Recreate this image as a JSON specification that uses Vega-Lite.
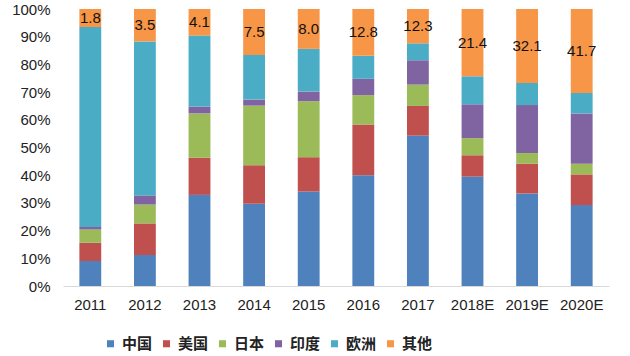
{
  "$schema": "https://vega.github.io/schema/vega-lite/v6.json",
  "width": 546,
  "height": 277,
  "autosize": {"type": "none"},
  "padding": {"left": 63, "top": 9, "right": 21, "bottom": 70},
  "background": "white",
  "config": {"view": {"stroke": null}, "font": "Liberation Sans"},
  "data": {
    "values": [
      {"year": "2011", "region": "中国", "value": 9.0},
      {"year": "2011", "region": "美国", "value": 6.6},
      {"year": "2011", "region": "日本", "value": 4.8},
      {"year": "2011", "region": "印度", "value": 0.9},
      {"year": "2011", "region": "欧洲", "value": 72.2},
      {"year": "2011", "region": "其他", "value": 6.5, "label": "1.8"},
      {"year": "2012", "region": "中国", "value": 11.2},
      {"year": "2012", "region": "美国", "value": 11.4},
      {"year": "2012", "region": "日本", "value": 6.8},
      {"year": "2012", "region": "印度", "value": 3.3},
      {"year": "2012", "region": "欧洲", "value": 55.6},
      {"year": "2012", "region": "其他", "value": 11.7, "label": "3.5"},
      {"year": "2013", "region": "中国", "value": 32.9},
      {"year": "2013", "region": "美国", "value": 13.4},
      {"year": "2013", "region": "日本", "value": 16.0},
      {"year": "2013", "region": "印度", "value": 2.5},
      {"year": "2013", "region": "欧洲", "value": 25.6},
      {"year": "2013", "region": "其他", "value": 9.6, "label": "4.1"},
      {"year": "2014", "region": "中国", "value": 29.7},
      {"year": "2014", "region": "美国", "value": 13.9},
      {"year": "2014", "region": "日本", "value": 21.5},
      {"year": "2014", "region": "印度", "value": 2.2},
      {"year": "2014", "region": "欧洲", "value": 16.1},
      {"year": "2014", "region": "其他", "value": 16.6, "label": "7.5"},
      {"year": "2015", "region": "中国", "value": 34.1},
      {"year": "2015", "region": "美国", "value": 12.4},
      {"year": "2015", "region": "日本", "value": 20.2},
      {"year": "2015", "region": "印度", "value": 3.5},
      {"year": "2015", "region": "欧洲", "value": 15.4},
      {"year": "2015", "region": "其他", "value": 14.4, "label": "8.0"},
      {"year": "2016", "region": "中国", "value": 40.0},
      {"year": "2016", "region": "美国", "value": 18.3},
      {"year": "2016", "region": "日本", "value": 10.6},
      {"year": "2016", "region": "印度", "value": 5.9},
      {"year": "2016", "region": "欧洲", "value": 8.3},
      {"year": "2016", "region": "其他", "value": 16.9, "label": "12.8"},
      {"year": "2017", "region": "中国", "value": 54.3},
      {"year": "2017", "region": "美国", "value": 10.7},
      {"year": "2017", "region": "日本", "value": 7.7},
      {"year": "2017", "region": "印度", "value": 8.8},
      {"year": "2017", "region": "欧洲", "value": 6.1},
      {"year": "2017", "region": "其他", "value": 12.4, "label": "12.3"},
      {"year": "2018E", "region": "中国", "value": 39.5},
      {"year": "2018E", "region": "美国", "value": 7.7},
      {"year": "2018E", "region": "日本", "value": 6.2},
      {"year": "2018E", "region": "印度", "value": 12.2},
      {"year": "2018E", "region": "欧洲", "value": 10.1},
      {"year": "2018E", "region": "其他", "value": 24.3, "label": "21.4"},
      {"year": "2019E", "region": "中国", "value": 33.4},
      {"year": "2019E", "region": "美国", "value": 10.8},
      {"year": "2019E", "region": "日本", "value": 3.8},
      {"year": "2019E", "region": "印度", "value": 17.3},
      {"year": "2019E", "region": "欧洲", "value": 8.0},
      {"year": "2019E", "region": "其他", "value": 26.7, "label": "32.1"},
      {"year": "2020E", "region": "中国", "value": 29.2},
      {"year": "2020E", "region": "美国", "value": 11.1},
      {"year": "2020E", "region": "日本", "value": 3.8},
      {"year": "2020E", "region": "印度", "value": 18.2},
      {"year": "2020E", "region": "欧洲", "value": 7.4},
      {"year": "2020E", "region": "其他", "value": 30.3, "label": "41.7"}
    ]
  },
  "transform": [
    {"calculate": "indexof(['中国','美国','日本','印度','欧洲','其他'], datum.region)", "as": "k"},
    {"stack": "value", "groupby": ["year"], "sort": [{"field": "k", "order": "ascending"}], "offset": "normalize", "as": ["y0", "y1"]},
    {"calculate": "(datum.y0 + datum.y1) / 2", "as": "ymid"}
  ],
  "encoding": {
    "x": {
      "field": "year",
      "type": "nominal",
      "sort": null,
      "scale": {"paddingInner": 0.6, "paddingOuter": 0.3},
      "axis": {
        "title": null,
        "labelAngle": 0,
        "labelFontSize": 15,
        "labelColor": "#222",
        "labelPadding": 11,
        "labelOverlap": false,
        "ticks": false,
        "domainColor": "#D9D9D9",
        "domainWidth": 1
      }
    }
  },
  "layer": [
    {
      "mark": {"type": "bar"},
      "encoding": {
        "y": {
          "field": "y0",
          "type": "quantitative",
          "scale": {"domain": [0, 1], "nice": false},
          "axis": {
            "title": null,
            "format": ".0%",
            "values": [0, 0.1, 0.2, 0.3, 0.4, 0.5, 0.6, 0.7, 0.8, 0.9, 1],
            "tickCount": 11,
            "labelOverlap": false,
            "grid": false,
            "domain": false,
            "ticks": false,
            "labelFontSize": 15,
            "labelColor": "#222",
            "labelPadding": 13
          }
        },
        "y2": {"field": "y1"},
        "color": {
          "field": "region",
          "type": "nominal",
          "scale": {
            "domain": ["中国", "美国", "日本", "印度", "欧洲", "其他"],
            "range": ["#4F81BD", "#C0504D", "#9BBB59", "#8064A2", "#4BACC6", "#F79646"]
          },
          "legend": {
            "title": null,
            "orient": "none",
            "direction": "horizontal",
            "legendX": 40,
            "legendY": 327,
            "symbolType": "square",
            "symbolSize": 50,
            "symbolStrokeWidth": 0,
            "labelFont": "Noto Sans CJK SC",
            "labelFontSize": 15,
            "labelFontWeight": "bold",
            "labelColor": "#222",
            "labelOffset": 4,
            "columnPadding": 6
          }
        }
      }
    },
    {
      "transform": [{"filter": "isValid(datum.label)"}],
      "mark": {"type": "text", "fontSize": 15, "baseline": "middle", "color": "#111"},
      "encoding": {
        "y": {
          "field": "ymid",
          "type": "quantitative",
          "scale": {"domain": [0, 1], "nice": false},
          "axis": {
            "title": null,
            "format": ".0%",
            "values": [0, 0.1, 0.2, 0.3, 0.4, 0.5, 0.6, 0.7, 0.8, 0.9, 1],
            "tickCount": 11,
            "labelOverlap": false,
            "grid": false,
            "domain": false,
            "ticks": false,
            "labelFontSize": 15,
            "labelColor": "#222",
            "labelPadding": 13
          }
        },
        "text": {"field": "label", "type": "nominal"}
      }
    }
  ]
}
